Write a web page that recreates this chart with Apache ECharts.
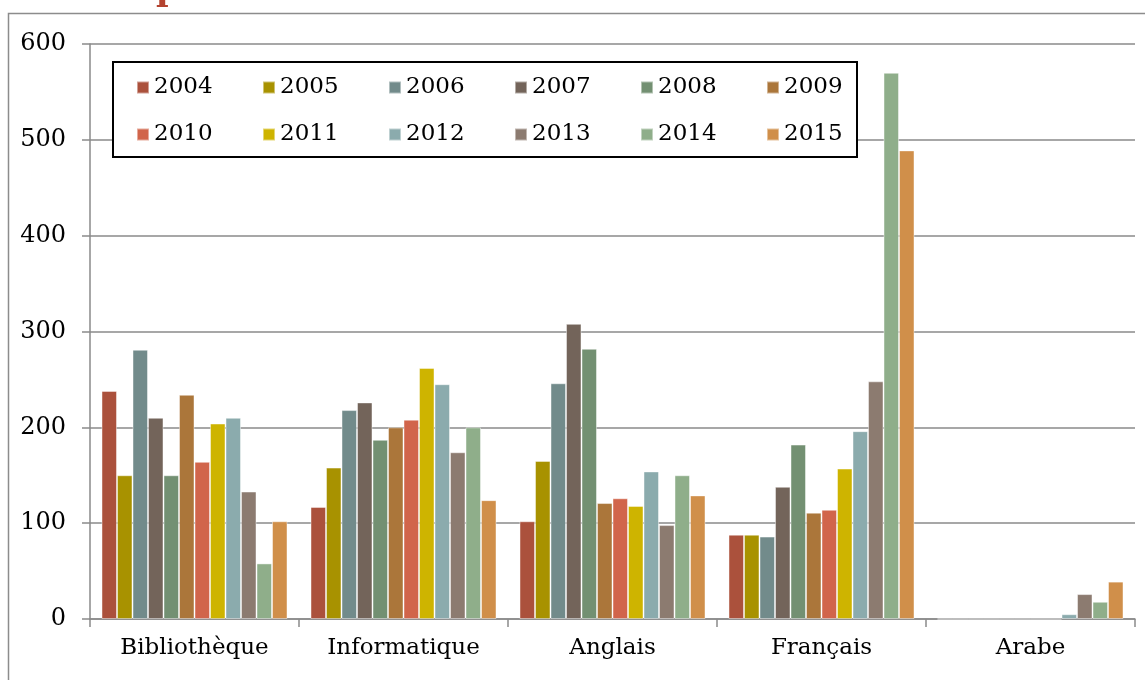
<!DOCTYPE html>
<html>
<head>
<meta charset="utf-8">
<script src="https://cdn.jsdelivr.net/npm/echarts@6/dist/echarts.min.js"></script>
<style>
  html, body { margin: 0; padding: 0; background: #fff; }
  #chart { width: 1145px; height: 680px; }
</style>
</head>
<body>
<div id="chart"></div>
<script>
// categories and years
const categories = ['Bibliothèque', 'Informatique', 'Anglais', 'Français', 'Arabe'];
const years = ['2004', '2005', '2006', '2007', '2008', '2009', '2010', '2011', '2012', '2013', '2014', '2015'];
const yTicks = [0, 100, 200, 300, 400, 500, 600];

// values per year, in category order
const v2004 = [238, 117, 102, 88, 0];
const v2005 = [150, 158, 165, 88, 0];
const v2006 = [281, 218, 246, 86, 0];
const v2007 = [210, 226, 308, 138, 0];
const v2008 = [150, 187, 282, 182, 0];
const v2009 = [234, 200, 121, 111, 0];
const v2010 = [164, 208, 126, 114, 0];
const v2011 = [204, 262, 118, 157, 0];
const v2012 = [210, 245, 154, 196, 5];
const v2013 = [133, 174, 98, 248, 26];
const v2014 = [58, 200, 150, 570, 18];
const v2015 = [102, 124, 129, 489, 39];

const values = [v2004, v2005, v2006, v2007, v2008, v2009, v2010, v2011, v2012, v2013, v2014, v2015];
const colors = ['#ab513c', '#a89200', '#728b8b', '#73645a', '#739072', '#ab763a',
                '#d1654b', '#ceb400', '#8babad', '#8c7b70', '#8fae8a', '#d08f4a'];

const font = 'DejaVu Serif';
const gray = '#8a8a8a';

var myChart = echarts.init(document.getElementById('chart'));
myChart.setOption({
    animation: false,
    color: colors,
    grid: {
        left: 90,
        right: 10,
        top: 44,
        bottom: 61,
        containLabel: false,
        outerBoundsMode: 'none'
    },
    graphic: [
        // outer chart frame
        {
            type: 'rect',
            shape: { x: 8.5, y: 13.5, width: 1300, height: 900 },
            style: { fill: 'none', stroke: '#8c8c8c', lineWidth: 1.5 },
            silent: true
        },
        // cut-off title
        {
            type: 'text',
            left: 156,
            top: -26,
            style: { text: 'p', fill: '#b4432f', font: 'bold 34px "DejaVu Serif"' },
            silent: true
        },
        // legend box
        {
            type: 'rect',
            shape: { x: 113, y: 62, width: 744, height: 95 },
            style: { fill: '#fff', stroke: '#000', lineWidth: 2 },
            z: 5,
            silent: true
        }
    ],
    legend: {
        data: years,
        left: 136,
        top: 64,
        width: 760,
        padding: 0,
        itemGap: 0,
        itemWidth: 12,
        itemHeight: 12,
        icon: 'rect',
        z: 10,
        textStyle: {
            fontFamily: font,
            fontSize: 23,
            color: '#000',
            width: 108,
            lineHeight: 47
        }
    },
    xAxis: {
        type: 'category',
        data: categories,
        axisLine: { lineStyle: { color: gray, width: 1.5 } },
        axisTick: { show: true, length: 8, lineStyle: { color: gray, width: 1.5 } },
        axisLabel: {
            fontFamily: font,
            fontSize: 23,
            color: '#000',
            margin: 18
        }
    },
    yAxis: {
        type: 'value',
        min: yTicks[0],
        max: yTicks[yTicks.length - 1],
        interval: 100,
        axisLine: { show: true, lineStyle: { color: gray, width: 1.5 } },
        axisTick: { show: true, length: 8, lineStyle: { color: gray, width: 1.5 } },
        splitLine: { lineStyle: { color: gray, width: 1.5 } },
        axisLabel: {
            fontFamily: font,
            fontSize: 24,
            color: '#000',
            margin: 24
        }
    },
    series: years.map(function (y, i) {
        return {
            name: y,
            type: 'bar',
            data: values[i],
            barGap: 0,
            barCategoryGap: '11%',
            itemStyle: {
                borderColor: 'rgba(255,255,255,0.45)',
                borderWidth: 1
            }
        };
    })
});
</script>
</body>
</html>
